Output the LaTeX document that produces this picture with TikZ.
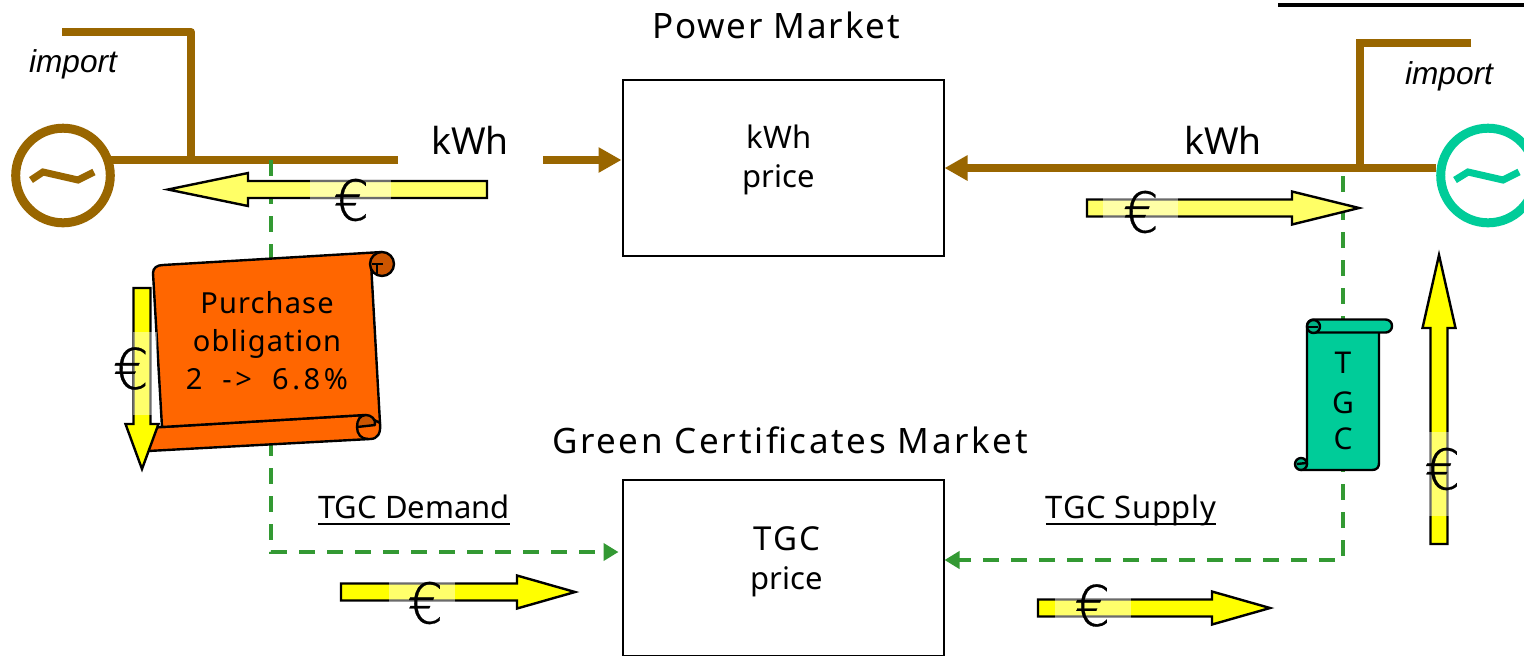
\documentclass[tikz,border=0pt]{standalone}
\usepackage{fontspec}
\setmainfont{Noto Sans}
\newfontfamily\pmfont[LetterSpace=5.3]{Noto Sans}
\newfontfamily\gmfont[LetterSpace=7.6]{Noto Sans}
\newfontfamily\lsfontb[LetterSpace=4]{Noto Sans}
\newfontfamily\lsfontc[LetterSpace=12.6]{Noto Sans}
\newfontfamily\lsfontd[LetterSpace=2.2]{Noto Sans}
\newfontfamily\lsfonte[LetterSpace=6]{Noto Sans}
\newfontfamily\eurofont[FakeBold=0.5]{DejaVu Sans ExtraLight}
\newfontfamily\italfont{Liberation Sans}
\usetikzlibrary{arrows.meta}
\definecolor{brownline}{HTML}{996600}
\definecolor{tealgen}{HTML}{00CC99}
\definecolor{greendash}{HTML}{339933}
\definecolor{scrollorange}{HTML}{FF6600}
\definecolor{orangedark}{HTML}{CC5500}
\definecolor{tealdark}{HTML}{00B386}
\definecolor{paleyellow}{HTML}{FFFF66}
\definecolor{fullyellow}{HTML}{FFFF00}
\newcommand{\yarrow}[7]{%
  \begin{scope}[shift={(#1,#2)},rotate=#3]
    \pgfmathsetmacro{\yb}{#4-#5}
    \draw[yarrowline,fill=#6] (0,-8.5) -- (\yb,-8.5) -- (\yb,-16.5) -- (#4,0) -- (\yb,16.5) -- (\yb,8.5) -- (0,8.5) -- cycle;
  \end{scope}}
\newcommand{\ulx}[1]{\setbox0\hbox{#1}\rlap{\rule[-3.5pt]{\wd0}{1pt}}\box0}
\tikzset{
  yarrowline/.style={draw=black,line width=1.2pt,miter limit=10},
  patch/.style={fill=white,opacity=0.42,draw=none},
  brown/.style={draw=brownline,line width=4pt},
  tilde/.style={line width=3.5pt},
  tgcdash/.style={draw=greendash,line width=2.2pt,dash pattern=on 8pt off 6pt},
  marketbox/.style={draw=black,line width=1pt,minimum width=160.5pt,minimum height=88pt,inner sep=0pt,fill=white},
  scrollline/.style={draw=black,line width=1.2pt,line join=round},
  big/.style={font=\fontsize{18.6}{22}\selectfont,anchor=base,inner sep=0pt},
  mid/.style={font=\fontsize{15.5}{19.5}\selectfont,anchor=base,inner sep=0pt,align=center},
  euro/.style={font=\eurofont\fontsize{28}{28}\selectfont,inner sep=0pt},
  imp/.style={font=\italfont\itshape\fontsize{15.8}{19}\selectfont,anchor=base,inner sep=0pt},
}
\begin{document}
\begin{tikzpicture}[x=0.5pt,y=-0.5pt]
\useasboundingbox (0,0) rectangle (1524,655);
\clip (0,0) rectangle (1524,655);
\fill[white] (0,0) rectangle (1524,655);

% boxes
\node[marketbox] (power) at (783,168) {};
\node[marketbox] (tgcbox) at (783,567.5) {};

% black line
\coordinate (ta) at (1278,5);
\coordinate (tb) at (1524,5);
\draw[line width=2pt] (ta) -- (tb);

% generators
\node[draw=brownline,circle,line width=4.5pt,minimum size=47.3pt,inner sep=0pt] (genl) at (63,175.5) {};
\node[draw=tealgen,circle,line width=4.5pt,minimum size=47.3pt,inner sep=0pt] (genr) at (1488,175.5) {};
\draw[brownline,tilde] (31,180) -- (43,172) -- (78,180) -- (94,172);
\draw[tealgen,tilde] (1455,180) -- (1468,172) -- (1503,180) -- (1519,172);

% brown lines
\coordinate (il) at (62,32);
\coordinate (ilc) at (191,32);
\coordinate (ilb) at (191,160);
\coordinate (hle) at (398,160);
\coordinate (kl) at (543,160);
\draw[brown,line join=round] (il) -- (ilc) -- (ilb);
\draw[brown,shorten <=-3pt] (genl.east |- ilb) -- (hle);
\draw[brown,-{Triangle[length=11.5pt,width=12pt]}] (kl) -- (power.west |- kl);
\coordinate (ir) at (1471,43);
\coordinate (irc) at (1360,43);
\coordinate (irb) at (1360,168);
\draw[brown,line join=miter] (ir) -- (irc) -- (irb);
\draw[brown,-{Triangle[length=11.5pt,width=12pt]}] (genr.west |- irb) -- (power.east |- irb);

% green dashed connectors
\coordinate (dl) at (271,160);
\coordinate (dlc) at (271,552);
\coordinate (dr) at (1343,176);
\coordinate (drc) at (1343,560);
\draw[tgcdash,-{Triangle[length=7.5pt,width=8.5pt]},shorten >=1.5pt] (dl) -- (dlc) -- (tgcbox.west |- dlc);
\draw[tgcdash,-{Triangle[length=7.5pt,width=8.5pt]}] (dr) -- (drc) -- (tgcbox.east |- drc);

% yellow arrows
\yarrow{487}{189.5}{180}{319}{80}{paleyellow}{}
\fill[patch] (310,180) rectangle (391,199);
\yarrow{1087}{208}{0}{272}{67}{paleyellow}{}
\fill[patch] (1103,198) rectangle (1178,218);
\yarrow{341}{592}{0}{234}{58}{fullyellow}{}
\fill[patch] (389,582) rectangle (455,602);
\yarrow{1038}{608}{0}{232}{58}{fullyellow}{}
\fill[patch] (1055,598) rectangle (1131,618);

% orange scroll
\draw[scrollline,fill=scrollorange] (162,427) -- (150,428) -- (148,451) -- (370,439) .. controls (378,439) and (381,433) .. (380,423) -- (378,417) -- (365,415) -- cycle;
\draw[scrollline,fill=scrollorange] (153,273) .. controls (153,268) and (157,265) .. (163,265) -- (382,252) -- (371,263) -- (380,423) -- (365,415) -- (162,427) -- cycle;
\draw[scrollline,fill=orangedark] (382,264) circle[radius=12];
\draw[scrollline] (372,264) -- (383,264) (377,264) -- (377,275);
\draw[scrollline,fill=orangedark] (357,427) -- (375,425) .. controls (376,419) and (371,415) .. (366,415) .. controls (360,415) and (357,420) .. (357,427) -- cycle;
\draw[scrollline] (357,427) .. controls (357,434) and (361,439) .. (368,439);
\node[font=\lsfontb\fontsize{14.5}{19}\selectfont,align=center,anchor=base,inner sep=0pt] (oblig) at (267,389) {Purchase\\obligation\\{\lsfontc 2\hspace{10pt}->\hspace{10pt}6.8\%}};

% vertical yellow arrows
\yarrow{142}{288}{-90}{181}{45}{fullyellow}{}
\fill[patch] (133,332) rectangle (157,415);
\yarrow{1439}{544}{90}{289}{73}{fullyellow}{}
\fill[patch] (1429,432) rectangle (1449,516);

% teal scroll
\draw[scrollline,fill=tealgen] (1307,327) -- (1307,464) -- (1301,470) -- (1372,470) .. controls (1377,470) and (1379,467) .. (1379,463) -- (1379,327) -- cycle;
\draw[scrollline,fill=tealgen,rounded corners=3.2pt] (1307,319.5) rectangle (1392,332.5);
\draw[scrollline,fill=tealdark] (1313.5,326.5) circle[radius=6.5];
\draw[scrollline,fill=tealdark] (1301,464) circle[radius=6];
\draw[scrollline] (1308,327) -- (1318,327);
\draw[scrollline] (1297,464) -- (1306,463);
\node[mid,font=\fontsize{15}{19.5}\selectfont] (tl) at (1343,373) {T};
\node[mid,font=\fontsize{15}{19.5}\selectfont] (gl) at (1343,413) {G};
\node[mid,font=\fontsize{15}{19.5}\selectfont] (cl) at (1343,449) {C};

% euros
\node[euro] (e1) at (351.5,200) {€};
\node[euro] (e2) at (1141,212) {€};
\node[euro] (e3) at (131,368.5) {€};
\node[euro] (e4) at (1442.5,469) {€};
\node[euro] (e5) at (425.5,603) {€};
\node[euro] (e6) at (1092.5,605.5) {€};

% text
\node[font=\pmfont\fontsize{17.5}{21}\selectfont,anchor=base,inner sep=0pt] (pm) at (776,38) {Power Market};
\node[font=\gmfont\fontsize{17.5}{21}\selectfont,anchor=base,inner sep=0pt] (gm) at (790,453) {Green Certificates Market};
\node[big] (kw1) at (470,154) {kWh};
\node[big] (kw2) at (1223,154) {kWh};
\node[mid] (kp) at (779,187) {kWh\\price};
\node[mid] (tp) at (787,589) {{\lsfonte\fontsize{16.5}{19.5}\selectfont TGC}\\price};
\node[mid] (dem) at (414,518) {\ulx{TGC Demand}};
\node[mid] (sup) at (1131,518) {\ulx{\lsfontd TGC Supply}};
\node[imp] (im1) at (73,72) {import};
\node[imp] (im2) at (1449,84) {import};
\end{tikzpicture}
\end{document}
